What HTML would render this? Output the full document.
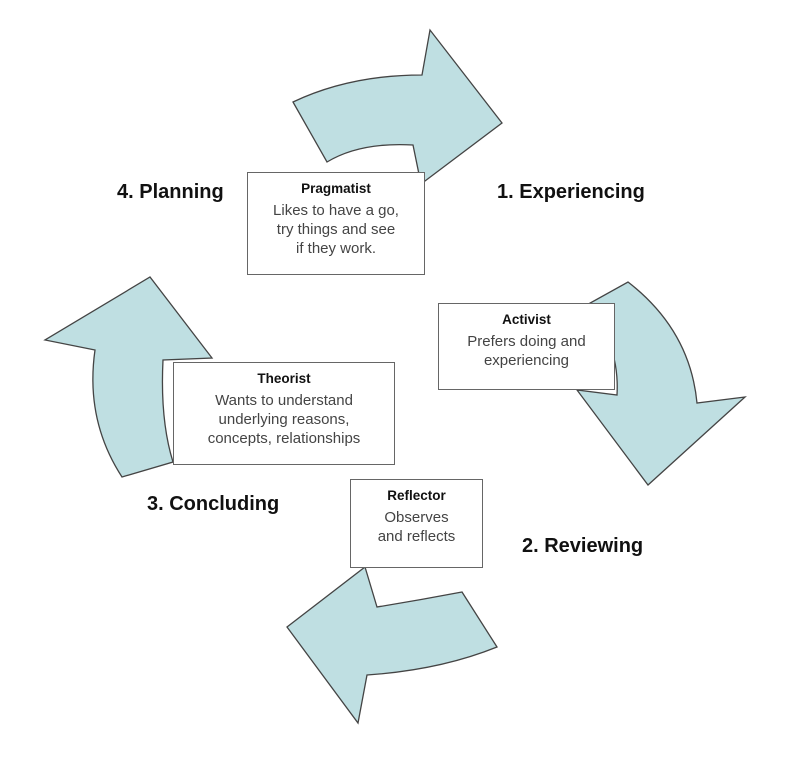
<!DOCTYPE html>
<html><head><style>
body{margin:0;background:#fff;}
.l{position:absolute;font-family:"Liberation Sans",sans-serif;font-weight:bold;font-size:20px;color:#111;}
.b{position:absolute;background:#fff;border:1.5px solid #666;box-sizing:border-box;font-family:"Liberation Sans",sans-serif;text-align:center;color:#444;font-size:15px;line-height:19px;}
.b b{display:block;color:#111;font-size:13.5px;margin:6px 0 3px;}
</style></head><body>
<div style="position:relative;width:792px;height:758px;overflow:hidden">
<svg width="792" height="758" style="position:absolute;left:0;top:0">
<g fill="#bfdfe2" stroke="#444" stroke-width="1.3" stroke-linejoin="miter">
<path d="M293,102 Q350,75 422,75 L430,30 L502,123 L421,184 L413,145 Q360,142 327,162 Z"/>
<path d="M628,282 Q690,330 697,403 L745,397 L648,485 L577,390 L617,395 Q620,340 583,307 Z"/>
<path d="M122,477 Q85,420 95,350 L45,340 L150,277 L212,358 L163,360 Q160,420 173,462 Z"/>
<path d="M462,592 Q420,600 377,607 L365,567 L287,627 L358,723 L367,675 Q440,670 497,647 Z"/>
</g>
</svg>
<div class="l" style="left:117px;top:181px">4. Planning</div>
<div class="l" style="left:497px;top:181px">1. Experiencing</div>
<div class="l" style="left:522px;top:535px">2. Reviewing</div>
<div class="l" style="left:147px;top:493px">3. Concluding</div>
<div class="b" style="left:247px;top:172px;width:178px;height:103px"><b>Pragmatist</b>Likes to have a go,<br>try things and see<br>if they work.</div>
<div class="b" style="left:438px;top:303px;width:177px;height:87px"><b>Activist</b>Prefers doing and<br>experiencing</div>
<div class="b" style="left:173px;top:362px;width:222px;height:103px"><b>Theorist</b>Wants to understand<br>underlying reasons,<br>concepts, relationships</div>
<div class="b" style="left:350px;top:479px;width:133px;height:89px"><b>Reflector</b>Observes<br>and reflects</div>
</div>
</body></html>
